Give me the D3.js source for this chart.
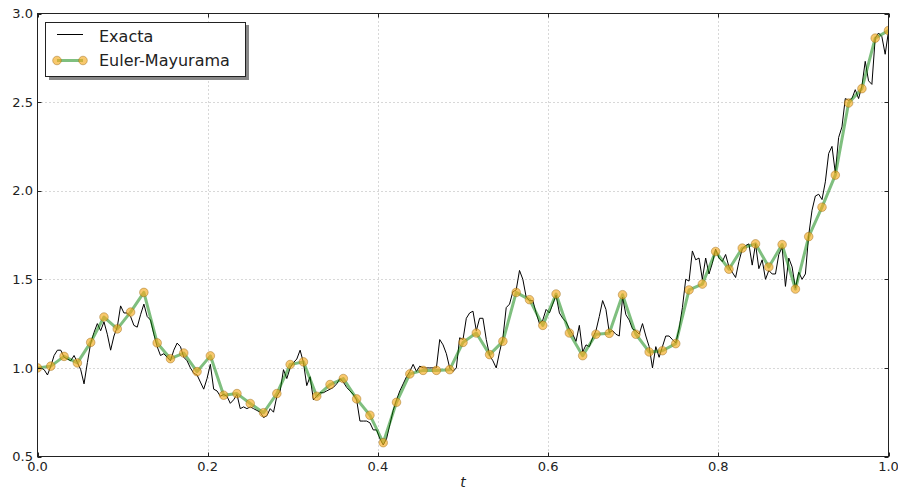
<!DOCTYPE html>
<html>
<head>
<meta charset="utf-8">
<script src="https://cdn.jsdelivr.net/npm/d3@7"></script>
<style>
  html, body { margin: 0; padding: 0; background: #fff; }
  svg { display: block; font-family: "DejaVu Sans", sans-serif; }
</style>
</head>
<body>
<svg id="chart" width="898" height="491"></svg>
<script>
// Exact solution sampled on the fine grid (N = 256 steps on [0, 1])
const exactValues = [
  1.00, 1.00, 0.99, 0.96, 1.01, 1.07, 1.10, 1.10, 1.06, 1.05,
  1.04, 1.07, 1.03, 0.99, 0.91, 1.03, 1.14, 1.20, 1.25, 1.21,
  1.26, 1.19, 1.10, 1.18, 1.23, 1.35, 1.31, 1.31, 1.29, 1.24,
  1.23, 1.30, 1.36, 1.29, 1.27, 1.19, 1.12, 1.07, 1.08, 1.06,
  1.04, 1.10, 1.14, 1.12, 1.06, 1.04, 1.00, 0.97, 0.96, 0.92,
  0.88, 0.94, 1.02, 0.88, 0.87, 0.84, 0.85, 0.84, 0.80, 0.82,
  0.85, 0.77, 0.78, 0.77, 0.78, 0.77, 0.76, 0.75, 0.72, 0.73,
  0.77, 0.75, 0.84, 0.87, 0.99, 0.94, 1.00, 1.03, 1.05, 1.10,
  1.03, 0.90, 0.95, 0.82, 0.84, 0.86, 0.86, 0.87, 0.88, 0.89,
  0.91, 0.94, 0.92, 0.89, 0.87, 0.85, 0.82, 0.70, 0.70, 0.70,
  0.69, 0.65, 0.65, 0.60, 0.565, 0.60, 0.68, 0.76, 0.82, 0.87,
  0.91, 0.95, 0.98, 1.02, 0.98, 1.01, 1.00, 1.00, 1.00, 1.00,
  1.00, 1.16, 1.13, 1.08, 1.00, 0.98, 1.00, 1.17, 1.16, 1.28,
  1.31, 1.32, 1.21, 1.28, 1.28, 1.16, 1.07, 1.04, 1.00, 1.09,
  1.17, 1.34, 1.36, 1.43, 1.44, 1.55, 1.50, 1.40, 1.38, 1.38,
  1.31, 1.25, 1.27, 1.33, 1.31, 1.36, 1.41, 1.31, 1.28, 1.26,
  1.22, 1.19, 1.15, 1.24, 1.09, 1.13, 1.12, 1.17, 1.21, 1.29,
  1.38, 1.33, 1.20, 1.21, 1.19, 1.18, 1.40, 1.30, 1.27, 1.22,
  1.21, 1.19, 1.25, 1.18, 1.12, 1.00, 1.12, 1.06, 1.12, 1.18,
  1.18, 1.16, 1.14, 1.22, 1.34, 1.50, 1.49, 1.66, 1.61, 1.62,
  1.50, 1.62, 1.53, 1.59, 1.67, 1.62, 1.60, 1.64, 1.57, 1.54,
  1.51, 1.60, 1.67, 1.69, 1.70, 1.58, 1.70, 1.56, 1.61, 1.50,
  1.55, 1.53, 1.53, 1.64, 1.68, 1.46, 1.62, 1.57, 1.45, 1.54,
  1.50, 1.53, 1.75, 1.89, 1.97, 1.98, 1.95, 2.05, 2.21, 2.25,
  2.10, 2.30, 2.36, 2.52, 2.51, 2.52, 2.57, 2.52, 2.59, 2.73,
  2.62, 2.60, 2.86, 2.89, 2.87, 2.77, 2.90
];

// Euler-Maruyama approximation on the coarse grid (L = 64 steps)
const emValues = [
  1.000, 1.010, 1.065, 1.028, 1.144, 1.287, 1.220, 1.315, 1.426, 1.141,
  1.052, 1.084, 0.979, 1.068, 0.846, 0.855, 0.799, 0.747, 0.855, 1.019,
  1.034, 0.840, 0.906, 0.940, 0.825, 0.733, 0.578, 0.806, 0.966, 0.986,
  0.986, 0.990, 1.144, 1.197, 1.075, 1.150, 1.426, 1.385, 1.240, 1.417,
  1.197, 1.069, 1.190, 1.195, 1.413, 1.190, 1.090, 1.097, 1.137, 1.440,
  1.473, 1.657, 1.557, 1.676, 1.700, 1.569, 1.696, 1.445, 1.741, 1.907,
  2.088, 2.495, 2.576, 2.861, 2.904
];

const xTicks = [0.0, 0.2, 0.4, 0.6, 0.8, 1.0];
const yTicks = [0.5, 1.0, 1.5, 2.0, 2.5, 3.0];
const seriesNames = ["Exacta", "Euler-Mayurama"];
const xLabel = "t";

const svg = d3.select("#chart");
const plotLeft = 37.5, plotRight = 888.5, plotTop = 13.5, plotBottom = 456.5;

const x = d3.scaleLinear().domain([0, 1]).range([plotLeft, plotRight]);
const y = d3.scaleLinear().domain([0.5, 3.0]).range([plotBottom, plotTop]);

const exact = exactValues.map((v, i) => ({ t: i / (exactValues.length - 1), v }));
const em = emValues.map((v, i) => ({ t: i / (emValues.length - 1), v }));

// dotted grid
const grid = svg.append("g");
grid.selectAll("line.gx").data(xTicks.slice(1, -1)).join("line")
  .attr("x1", d => Math.round(x(d)) + 0.5).attr("x2", d => Math.round(x(d)) + 0.5)
  .attr("y1", plotTop).attr("y2", plotBottom)
  .attr("stroke", "#b0b0b0").attr("stroke-width", 1).attr("stroke-dasharray", "1,3");
grid.selectAll("line.gy").data(yTicks.slice(1, -1)).join("line")
  .attr("y1", d => Math.round(y(d)) + 0.5).attr("y2", d => Math.round(y(d)) + 0.5)
  .attr("x1", plotLeft).attr("x2", plotRight)
  .attr("stroke", "#b0b0b0").attr("stroke-width", 1).attr("stroke-dasharray", "1,3");

svg.append("clipPath").attr("id", "plotclip")
  .append("rect").attr("x", plotLeft).attr("y", plotTop - 6)
  .attr("width", plotRight - plotLeft).attr("height", plotBottom - plotTop + 12);

const line = d3.line().x(d => x(d.t)).y(d => y(d.v));

const plot = svg.append("g").attr("clip-path", "url(#plotclip)");

// exact path
plot.append("path").datum(exact)
  .attr("d", line)
  .attr("fill", "none").attr("stroke", "#000").attr("stroke-width", 1)
  .attr("stroke-linejoin", "miter");

// Euler-Maruyama path and markers
plot.append("path").datum(em)
  .attr("d", line)
  .attr("fill", "none").attr("stroke", "rgb(0,128,0)").attr("stroke-opacity", 0.5)
  .attr("stroke-width", 3).attr("stroke-linejoin", "round");

plot.selectAll("circle.em").data(em).join("circle")
  .attr("cx", d => x(d.t)).attr("cy", d => y(d.v)).attr("r", 4.3)
  .attr("fill", "rgb(245,170,30)").attr("fill-opacity", 0.65)
  .attr("stroke", "rgb(150,100,20)").attr("stroke-opacity", 0.55).attr("stroke-width", 0.8);

// frame
svg.append("rect")
  .attr("x", plotLeft).attr("y", plotTop).attr("width", plotRight - plotLeft).attr("height", plotBottom - plotTop)
  .attr("fill", "none").attr("stroke", "#222").attr("stroke-width", 1);

// inward ticks on all sides
const tickG = svg.append("g").attr("stroke", "#222").attr("stroke-width", 1);
xTicks.forEach(t => {
  const px = Math.round(x(t)) + 0.5;
  tickG.append("line").attr("x1", px).attr("x2", px).attr("y1", plotBottom).attr("y2", plotBottom - 4);
  tickG.append("line").attr("x1", px).attr("x2", px).attr("y1", plotTop).attr("y2", plotTop + 4);
});
yTicks.forEach(t => {
  const py = Math.round(y(t)) + 0.5;
  tickG.append("line").attr("y1", py).attr("y2", py).attr("x1", plotLeft).attr("x2", plotLeft + 4);
  tickG.append("line").attr("y1", py).attr("y2", py).attr("x1", plotRight).attr("x2", plotRight - 4);
});

// tick labels
svg.append("g").selectAll("text").data(xTicks).join("text")
  .attr("x", d => x(d)).attr("y", 471)
  .attr("text-anchor", "middle").attr("font-size", 13).attr("fill", "#222")
  .text(d => d3.format(".1f")(d));
svg.append("g").selectAll("text").data(yTicks).join("text")
  .attr("x", 33).attr("y", d => y(d) + 4.6)
  .attr("text-anchor", "end").attr("font-size", 13).attr("fill", "#222")
  .text(d => d3.format(".1f")(d));

svg.append("text").attr("x", (plotLeft + plotRight) / 2).attr("y", 487)
  .attr("text-anchor", "middle").attr("font-size", 14).attr("font-style", "italic")
  .attr("fill", "#222").text(xLabel);

// legend
const lg = svg.append("g");
lg.append("rect").attr("x", 49).attr("y", 25).attr("width", 200).attr("height", 55).attr("fill", "#888");
lg.append("rect").attr("x", 45.5).attr("y", 22.5).attr("width", 200).attr("height", 54)
  .attr("fill", "#fff").attr("stroke", "#222").attr("stroke-width", 1);
lg.append("line").attr("x1", 57).attr("x2", 83).attr("y1", 34.5).attr("y2", 34.5)
  .attr("stroke", "#000").attr("stroke-width", 1);
lg.append("line").attr("x1", 57).attr("x2", 83).attr("y1", 60.5).attr("y2", 60.5)
  .attr("stroke", "rgb(0,128,0)").attr("stroke-opacity", 0.5).attr("stroke-width", 3);
[57, 83].forEach(cx => {
  lg.append("circle").attr("cx", cx).attr("cy", 60.5).attr("r", 4.3)
    .attr("fill", "rgb(245,170,30)").attr("fill-opacity", 0.65)
    .attr("stroke", "rgb(150,100,20)").attr("stroke-opacity", 0.55).attr("stroke-width", 0.8);
});
lg.selectAll("text").data(seriesNames).join("text")
  .attr("x", 99).attr("y", (d, i) => 41.5 + i * 24)
  .attr("font-size", 16).attr("fill", "#222").text(d => d);
</script>
</body>
</html>
